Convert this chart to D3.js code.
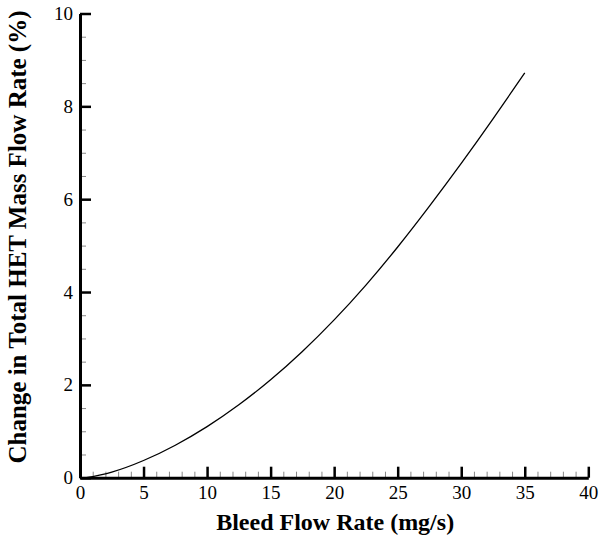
<!DOCTYPE html>
<html>
<head>
<meta charset="utf-8">
<script src="https://cdn.jsdelivr.net/npm/d3@7"></script>
<style>
  html, body { margin: 0; padding: 0; background: #fff; }
  svg { display: block; }
</style>
</head>
<body>
<svg id="chart" width="600" height="537"></svg>
<script>
// Data
const bleedFlow = [0.5, 2.5, 5, 7.5, 10, 12.5, 15, 17.5, 20, 22.5, 25, 27.5, 30, 32.5, 35];
const massFlowChange = [0, 0.12, 0.37, 0.70, 1.10, 1.57, 2.11, 2.72, 3.40, 4.15, 4.97, 5.85, 6.77, 7.73, 8.72];
const xMajorTicks = [0, 5, 10, 15, 20, 25, 30, 35, 40];
const yMajorTicks = [0, 2, 4, 6, 8, 10];
const xMinorTicks = d3.range(0, 41, 1).filter(v => v % 5 !== 0);
const yMinorTicks = d3.range(0, 10.01, 0.5).filter(v => v % 2 !== 0);
const xTitle = "Bleed Flow Rate (mg/s)";
const yTitle = "Change in Total HET Mass Flow Rate (%)";

const svg = d3.select("#chart");
const mLeft = 80, mRight = 588.3, mTop = 13.5, mBottom = 477.7;

const x = d3.scaleLinear().domain([0, 40]).range([mLeft, mRight]);
const y = d3.scaleLinear().domain([0, 10]).range([mBottom, mTop]);

const font = "'Liberation Serif', 'Times New Roman', serif";

// Minor ticks
svg.append("g")
  .attr("transform", `translate(0,${mBottom})`)
  .call(d3.axisBottom(x).tickValues(xMinorTicks).tickSize(-6).tickSizeOuter(0).tickFormat(""))
  .call(g => g.select(".domain").remove())
  .call(g => g.selectAll(".tick line").attr("stroke", "#888").attr("stroke-width", 1));

svg.append("g")
  .attr("transform", `translate(${mLeft},0)`)
  .call(d3.axisLeft(y).tickValues(yMinorTicks).tickSize(-6).tickSizeOuter(0).tickFormat(""))
  .call(g => g.select(".domain").remove())
  .call(g => g.selectAll(".tick line").attr("stroke", "#888").attr("stroke-width", 1));

// Major axes
const xAxis = svg.append("g")
  .attr("transform", `translate(0,${mBottom})`)
  .call(d3.axisBottom(x).tickValues(xMajorTicks).tickSize(-11).tickSizeOuter(0).tickPadding(8).tickFormat(d3.format("d")));
xAxis.select(".domain").attr("stroke", "#000").attr("stroke-width", 3);
xAxis.selectAll(".tick line").attr("stroke", "#000").attr("stroke-width", 2.5);
xAxis.selectAll(".tick text")
  .attr("font-family", font).attr("font-size", 19).attr("fill", "#000")
  .attr("y", 0).attr("dy", "21px");

const yAxis = svg.append("g")
  .attr("transform", `translate(${mLeft},0)`)
  .call(d3.axisLeft(y).tickValues(yMajorTicks).tickSize(-11).tickSizeOuter(0).tickPadding(7).tickFormat(d3.format("d")));
yAxis.select(".domain").attr("stroke", "#000").attr("stroke-width", 3);
yAxis.selectAll(".tick line").attr("stroke", "#000").attr("stroke-width", 2.5);
yAxis.selectAll(".tick text")
  .attr("font-family", font).attr("font-size", 19).attr("fill", "#000");

// Curve
const line = d3.line()
  .x((d, i) => x(bleedFlow[i]))
  .y((d, i) => y(massFlowChange[i]))
  .curve(d3.curveNatural);

svg.append("path")
  .datum(massFlowChange)
  .attr("d", line)
  .attr("fill", "none")
  .attr("stroke", "#000")
  .attr("stroke-width", 1.3);

// Titles
svg.append("text")
  .attr("x", (mLeft + mRight) / 2 + 1)
  .attr("y", 530)
  .attr("text-anchor", "middle")
  .attr("font-family", font)
  .attr("font-weight", "bold")
  .attr("font-size", 24)
  .text(xTitle);

svg.append("text")
  .attr("transform", `translate(26,${237}) rotate(-90)`)
  .attr("text-anchor", "middle")
  .attr("font-family", font)
  .attr("font-weight", "bold")
  .attr("font-size", 25)
  .text(yTitle);
</script>
</body>
</html>
